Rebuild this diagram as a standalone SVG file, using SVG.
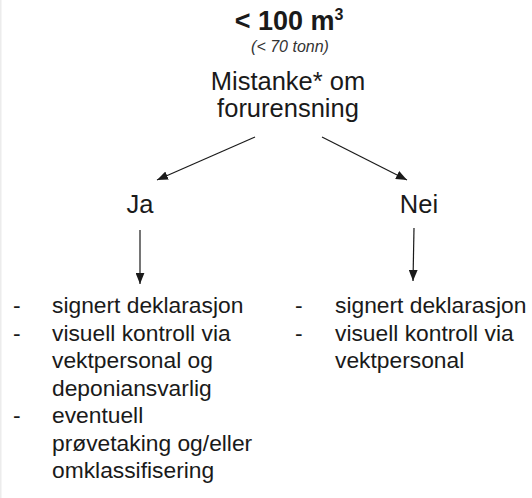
<svg xmlns="http://www.w3.org/2000/svg" width="532" height="498" viewBox="0 0 532 498">
  <defs>
    <marker id="arrow" viewBox="0 0 10 8" refX="10" refY="4" markerWidth="11" markerHeight="9" markerUnits="userSpaceOnUse" orient="auto">
      <path d="M0,0 L10,4 L0,8 Z" fill="#1a1a1a"/>
    </marker>
    <style>
      text { font-family: "Liberation Sans", "Open Sans", sans-serif; fill: #1a1a1a; }
      .title { font-size: 27px; font-weight: bold; text-anchor: middle; }
      .sub { font-size: 16px; font-style: italic; text-anchor: middle; fill: #333; }
      .big { font-size: 25.5px; text-anchor: middle; }
      .item { font-size: 22.8px; }
      .conn { stroke: #1a1a1a; stroke-width: 1.2; fill: none; marker-end: url(#arrow); }
    </style>
  </defs>
  <rect x="0" y="0" width="532" height="498" fill="#ffffff"/>
  <line x1="0.75" y1="0" x2="0.75" y2="498" stroke="#ececec" stroke-width="1.5"/>

  <g id="root">
    <text class="title" x="289" y="30">&lt; 100 m<tspan font-size="16" dy="-10">3</tspan></text>
    <text class="sub" x="290" y="51.5">(&lt; 70 tonn)</text>
    <text class="big" x="288" y="89.5">Mistanke* om</text>
    <text class="big" x="288" y="117">forurensning</text>
  </g>

  <g id="ja">
    <text class="big" x="140" y="213">Ja</text>
  </g>

  <g id="nei">
    <text class="big" x="419" y="213">Nei</text>
  </g>

  <g id="ja-list">
    <text class="item" x="13" y="313">-</text>
    <text class="item" x="52" y="313">signert deklarasjon</text>
    <text class="item" x="13" y="340.5">-</text>
    <text class="item" x="52" y="340.5">visuell kontroll via</text>
    <text class="item" x="52" y="368">vektpersonal og</text>
    <text class="item" x="52" y="395.5">deponiansvarlig</text>
    <text class="item" x="13" y="423">-</text>
    <text class="item" x="52" y="423">eventuell</text>
    <text class="item" x="52" y="450.5">prøvetaking og/eller</text>
    <text class="item" x="52" y="478">omklassifisering</text>
  </g>

  <g id="nei-list">
    <text class="item" x="295" y="313">-</text>
    <text class="item" x="335" y="313">signert deklarasjon</text>
    <text class="item" x="295" y="340.5">-</text>
    <text class="item" x="335" y="340.5">visuell kontroll via</text>
    <text class="item" x="335" y="368">vektpersonal</text>
  </g>

  <g id="connectors">
    <line class="conn" x1="255" y1="137" x2="157" y2="180"/>
    <line class="conn" x1="322" y1="137" x2="407" y2="180"/>
    <line class="conn" x1="140" y1="230" x2="140" y2="284"/>
    <line class="conn" x1="414" y1="228" x2="413" y2="281"/>
  </g>
</svg>
